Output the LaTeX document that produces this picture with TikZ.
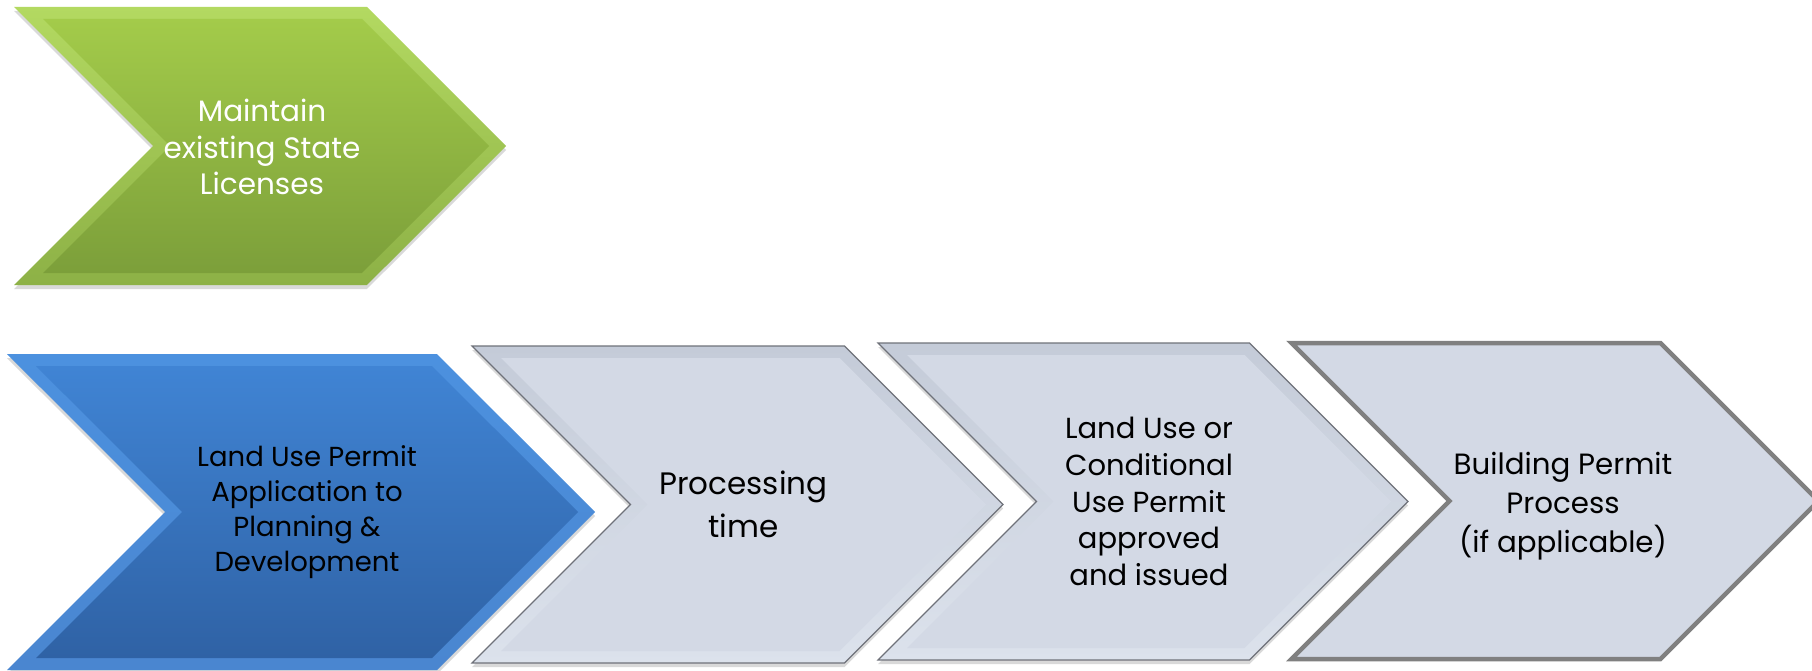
\documentclass[tikz,border=0pt]{standalone}
\usepackage{fontspec}
\setmainfont{Poppins}
\usetikzlibrary{positioning, shapes.symbols, shadows}
\definecolor{greenTop}{HTML}{A3CB4A}
\definecolor{greenBot}{HTML}{7C9F3A}
\definecolor{greenBandTop}{HTML}{B3D961}
\definecolor{greenBandBot}{HTML}{8DB146}
\definecolor{blueTop}{HTML}{4084D4}
\definecolor{blueBot}{HTML}{2F62A5}
\definecolor{blueBandTop}{HTML}{4C91DF}
\definecolor{blueBandBot}{HTML}{4A86D0}
\definecolor{greyFill}{HTML}{D3D9E5}
\definecolor{greyBandTop}{HTML}{C4CBD8}
\definecolor{greyBandBot}{HTML}{DCE2EC}
\definecolor{greyEdge}{HTML}{6F727A}
\definecolor{greyLine}{HTML}{808080}
\tikzstyle{chevBox} = [shape=signal, signal from=west, signal to=east,
	signal pointer angle=90, inner sep=0pt]
\tikzstyle{softShadow} = [drop shadow={opacity=0.3, shadow xshift=0pt, shadow yshift=-4pt}]
\tikzstyle{greenOuter} = [chevBox, softShadow, top color=greenBandTop, bottom color=greenBandBot]
\tikzstyle{greenInner} = [chevBox, top color=greenTop, bottom color=greenBot]
\tikzstyle{blueOuter} = [chevBox, softShadow, top color=blueBandTop, bottom color=blueBandBot]
\tikzstyle{blueInner} = [chevBox, top color=blueTop, bottom color=blueBot]
\tikzstyle{greyOuter} = [chevBox, softShadow, top color=greyBandTop, bottom color=greyBandBot,
	draw=greyEdge, line width=1.2pt]
\tikzstyle{greyInner} = [chevBox, fill=greyFill]
\tikzstyle{plainGrey} = [chevBox, fill=greyFill, draw=greyLine, line width=4.5pt]
\tikzstyle{stepText} = [align=center, text=black, inner sep=0pt]

\begin{document}
\begin{tikzpicture}[x=1pt, y=-1pt]
  \useasboundingbox (0,0) rectangle (1812,671);
  % top row
  \node (licOut) at (260,146) [greenOuter, minimum width=492pt, minimum height=278pt] {};
  \node (licIn) at (266,146) [greenInner, minimum width=446pt, minimum height=254pt] {};
  \node (licText) at (262,147) [stepText, text=white,
    font=\fontsize{29.5}{36.5}\selectfont] {Maintain\\existing State\\Licenses};

  % bottom row
  \node (appOut) at (301,512) [blueOuter, minimum width=588pt, minimum height=316pt] {};
  \node (appIn) at (307,512) [blueInner, minimum width=542pt, minimum height=292pt] {};
  \node (appText) at (appIn.center) [stepText, font=\fontsize{27.5}{35}\selectfont]
    {Land Use Permit\\Application to\\Planning \&\\Development};

  \node (procOut) at (737.5,504.5) [greyOuter, minimum width=531pt, minimum height=317pt] {};
  \node (procIn) at (743.5,504.5) [greyInner, minimum width=485pt, minimum height=293pt] {};
  \node (procText) at (procIn.center) [stepText, font=\fontsize{31}{43}\selectfont]
    {Processing\\time};

  \node (cupOut) at (1143,501.5) [greyOuter, minimum width=530pt, minimum height=317pt] {};
  \node (cupIn) at (1149,501.5) [greyInner, minimum width=484pt, minimum height=293pt] {};
  \node (cupText) at (cupIn.center) [stepText, font=\fontsize{29}{36.7}\selectfont]
    {Land Use or\\Conditional\\Use Permit\\approved\\and issued};

  \node (bldOut) at (1555,501) [plainGrey, minimum width=527pt, minimum height=316pt] {};
  \node (bldText) at (1563,506) [stepText, font=\fontsize{29.3}{39}\selectfont]
    {Building Permit\\Process\\(if applicable)};
\end{tikzpicture}
\end{document}
